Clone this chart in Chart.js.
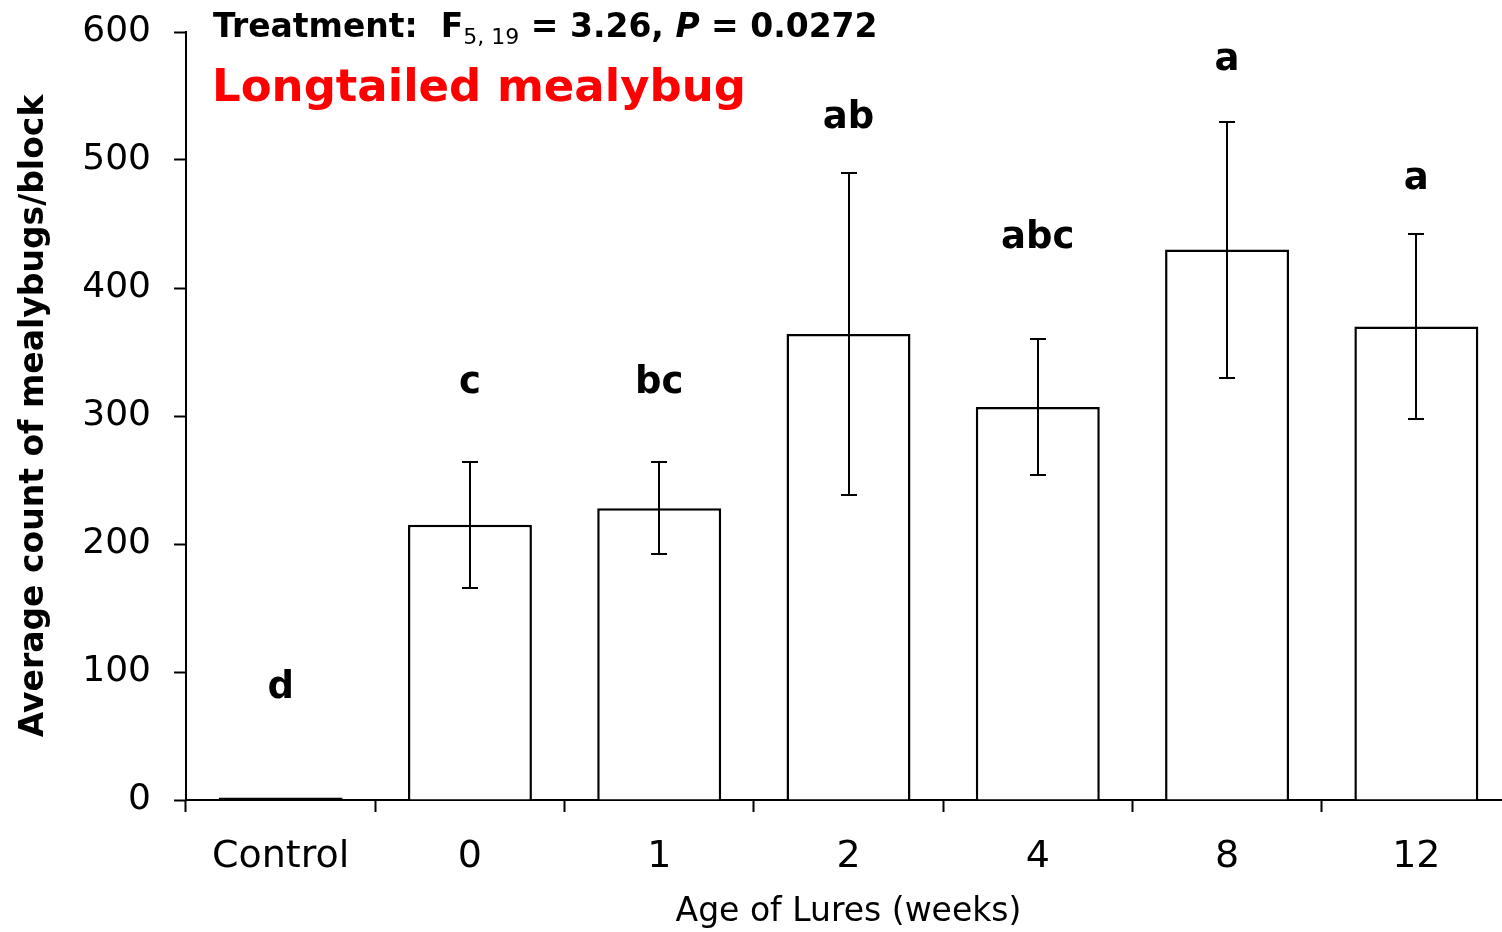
<!DOCTYPE html>
<html>
<head>
<meta charset="utf-8">
<script src="https://cdn.jsdelivr.net/npm/chart.js@4.4.1/dist/chart.umd.min.js"></script>
<style>
  html, body { margin: 0; padding: 0; background: #fff; overflow: hidden; }
  #wrap { width: 1512px; height: 932px; }
</style>
</head>
<body>
<div id="wrap"><canvas id="grafica"></canvas></div>
<script>
'use strict'

//categorias (edad del atrayente, semanas)
const categorias = ['Control', '0', '1', '2', '4', '8', '12'];
//promedio de piojos por bloque
const promedios = [2, 215, 228, 364, 307, 430, 370];
//error estandar de cada barra
const errores = [0, 49, 36, 126, 53, 100, 72];
//letras de separacion de medias
const letras = ['d', 'c', 'bc', 'ab', 'abc', 'a', 'a'];
//altura de cada letra, en unidades del eje y
const alturaLetras = [80, 318, 318, 525, 431, 570, 477];
//marcas del eje y
const marcasY = [0, 100, 200, 300, 400, 500, 600];

const fuente = '"DejaVu Sans", Verdana, sans-serif';

//barras de error y letras
const barrasError =
{
  id: 'barrasError',
  afterDatasetsDraw( chart )
  {
    const ctx = chart.ctx;
    const ejeY = chart.scales.y;
    const meta = chart.getDatasetMeta( 0 );

    ctx.save( );
    ctx.strokeStyle = '#000';
    ctx.lineWidth = 2;
    meta.data.forEach( ( barra, i ) =>
    {
      if ( !errores[i] ) return;
      const arriba = Math.round( ejeY.getPixelForValue( promedios[i] + errores[i] ) );
      const abajo = Math.round( ejeY.getPixelForValue( promedios[i] - errores[i] ) );
      const x = Math.round( barra.x );
      ctx.beginPath( );
      ctx.moveTo( x, arriba ); ctx.lineTo( x, abajo );
      ctx.moveTo( x - 8, arriba ); ctx.lineTo( x + 8, arriba );
      ctx.moveTo( x - 8, abajo ); ctx.lineTo( x + 8, abajo );
      ctx.stroke( );
    });

    ctx.fillStyle = '#000';
    ctx.font = 'bold 37px ' + fuente;
    ctx.textAlign = 'center';
    ctx.textBaseline = 'alphabetic';
    meta.data.forEach( ( barra, i ) =>
    {
      ctx.fillText( letras[i], barra.x, ejeY.getPixelForValue( alturaLetras[i] ) );
    });
    ctx.restore( );
  }
};

//textos de arriba (estadistico y nombre de la especie)
const titulos =
{
  id: 'titulos',
  afterDraw( chart )
  {
    const ctx = chart.ctx;
    ctx.save( );
    ctx.fillStyle = '#000';
    ctx.textBaseline = 'alphabetic';
    ctx.textAlign = 'left';

    let x = 213;
    const base = 37;
    const partes =
    [
      [ 'Treatment:  F', 'bold 33px ' + fuente, 0 ],
      [ '5, 19', '22px ' + fuente, 7 ],
      [ ' = 3.26, ', 'bold 33px ' + fuente, 0 ],
      [ 'P', 'italic bold 33px ' + fuente, 0 ],
      [ ' = 0.0272', 'bold 33px ' + fuente, 0 ]
    ];
    partes.forEach( p =>
    {
      ctx.font = p[1];
      ctx.fillText( p[0], x, base + p[2] );
      x += ctx.measureText( p[0] ).width;
    });

    ctx.fillStyle = '#ff0000';
    ctx.font = 'bold 45px ' + fuente;
    ctx.fillText( 'Longtailed mealybug', 212, 101 );
    ctx.restore( );
  }
};

const ctxGrafica = document.getElementById( 'grafica' ).getContext( '2d' );

const grafica = new Chart( ctxGrafica,
{
  type: 'bar',
  data:
  {
    labels: categorias,
    datasets:
    [
      {
        data: promedios,
        backgroundColor: '#ffffff',
        borderColor: '#000000',
        borderWidth: 2.5,
        //la barra del control es casi cero: se dibuja completa para que se vea negra
        borderSkipped: c => c.dataIndex === 0 ? false : 'start',
        barPercentage: 0.655,
        categoryPercentage: 1
      }
    ]
  },
  options:
  {
    responsive: true,
    maintainAspectRatio: false,
    animation: false,
    layout: { padding: { top: 32, right: 1, left: 0, bottom: 0 } },
    plugins:
    {
      legend: { display: false },
      tooltip: { enabled: false }
    },
    scales:
    {
      x:
      {
        grid:
        {
          drawOnChartArea: false,
          tickLength: 12,
          tickColor: '#000',
          tickWidth: 2,
          offset: true
        },
        border: { color: '#000', width: 2 },
        ticks:
        {
          color: '#000',
          font: { family: fuente, size: 38 },
          padding: 22
        },
        title:
        {
          display: true,
          text: 'Age of Lures (weeks)',
          color: '#000',
          font: { family: fuente, size: 33 },
          padding: { top: 0, bottom: 0 }
        },
        afterFit( eje )
        {
          eje.height = 132;
          eje.paddingLeft = 0;
          eje.paddingRight = 0;
        }
      },
      y:
      {
        min: 0,
        max: 600,
        afterBuildTicks( eje ) { eje.ticks = marcasY.map( v => ( { value: v } ) ); },
        grid:
        {
          drawOnChartArea: false,
          tickLength: 12,
          tickColor: '#000',
          tickWidth: 2
        },
        border: { color: '#000', width: 2 },
        ticks:
        {
          color: '#000',
          font: { family: fuente, size: 36 },
          padding: 23
        },
        title:
        {
          display: true,
          text: 'Average count of mealybugs/block',
          color: '#000',
          font: { family: fuente, size: 33, weight: 'bold' },
          padding: { top: 15, bottom: 0 }
        },
        afterFit( eje )
        {
          eje.width = 186;
          eje.paddingTop = 0;
          eje.paddingBottom = 0;
        }
      }
    }
  },
  plugins: [ barrasError, titulos ]
});
</script>
</body>
</html>
